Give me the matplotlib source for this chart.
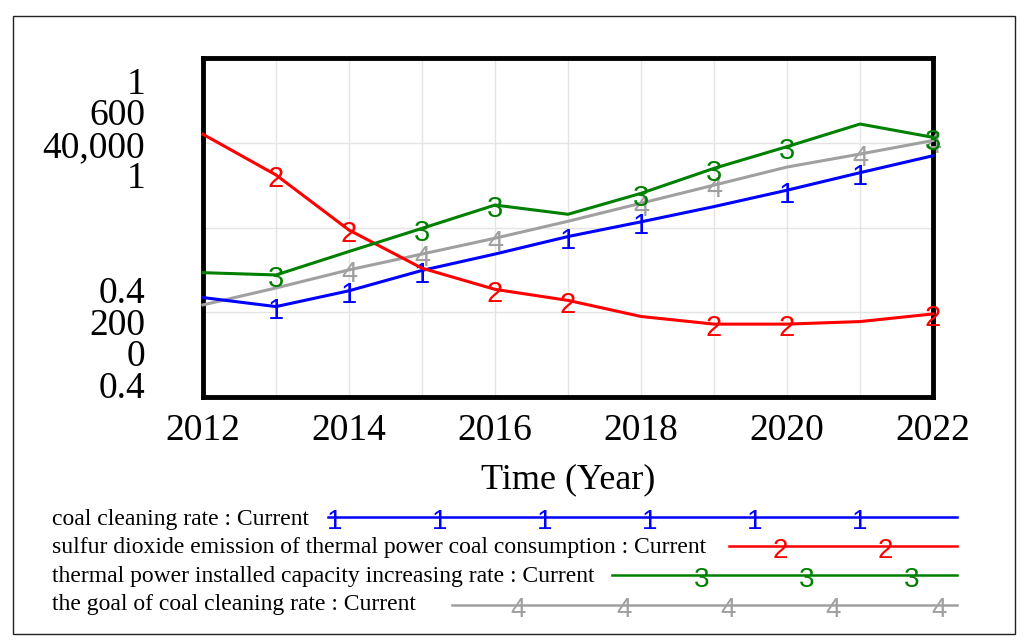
import matplotlib
matplotlib.use('Agg')
import matplotlib.pyplot as plt
import matplotlib.transforms as mtransforms
from matplotlib.lines import Line2D
from matplotlib.patches import Rectangle

# ---------------- data ----------------
years = list(range(2012, 2023))
coal_cleaning_rate = [0.576, 0.560, 0.588, 0.624, 0.653, 0.684, 0.710, 0.737, 0.766, 0.797, 0.827]
so2_emission = [510, 462, 397, 352, 327, 314, 295, 286, 286, 289, 298]
capacity_increasing_rate = [14670, 14400, 17170, 19900, 22650, 21560, 24030, 26980, 29540, 32210, 30640]
goal_cleaning_rate = [0.563, 0.593, 0.625, 0.653, 0.681, 0.711, 0.743, 0.775, 0.807, 0.830, 0.854]

series_names = [
    "coal cleaning rate : Current",
    "sulfur dioxide emission of thermal power coal consumption : Current",
    "thermal power installed capacity increasing rate : Current",
    "the goal of coal cleaning rate : Current",
]
series_values = [coal_cleaning_rate, so2_emission, capacity_increasing_rate, goal_cleaning_rate]
series_ranges = [(0.4, 1.0), (200, 600), (0, 40000), (0.4, 1.0)]
top_labels = ["1", "600", "40,000", "1"]
bottom_labels = ["0.4", "200", "0", "0.4"]
marker_labels = ["1", "2", "3", "4"]
marker_years = [
    [2013, 2014, 2015, 2017, 2018, 2020, 2021],
    [2013, 2014, 2016, 2017, 2019, 2020, 2022],
    [2013, 2015, 2016, 2018, 2019, 2020, 2022],
    [2014, 2015, 2016, 2018, 2019, 2021, 2022],
]
x_ticks = [2012, 2014, 2016, 2018, 2020, 2022]
x_label = "Time (Year)"
colors = ["#0000FF", "#FF0000", "#008000", "#A0A0A0"]

# ---------------- layout ----------------
W, H = 1024, 642
fig = plt.figure(figsize=(W / 100, H / 100), dpi=100)
fx = lambda x: x / W
fy = lambda y: 1 - y / H

SERIF = ["Liberation Serif", "DejaVu Serif"]
SANS = ["Liberation Sans", "DejaVu Sans"]

# outer frame
fig.patches.append(Rectangle((fx(12.5), fy(634)), fx(1015) - fx(12.5), fy(16) - fy(634),
                             transform=fig.transFigure, fill=False, edgecolor="#222222",
                             linewidth=1.0))

ax_left, ax_right, ax_top, ax_bottom = 203, 933, 58, 397
pos = [fx(ax_left), fy(ax_bottom), fx(ax_right) - fx(ax_left), fy(ax_top) - fy(ax_bottom)]

base = fig.add_axes(pos)
base.set_xlim(2012, 2022)
base.set_ylim(0, 4)
base.set_xticks(years)
base.set_yticks([0, 1, 2, 3, 4])
base.grid(True, color="#E4E4E4", linewidth=1.0)
base.tick_params(axis="both", length=0, labelleft=False, labelbottom=False)
for s in base.spines.values():
    s.set_linewidth(3.5)
    s.set_color("black")
base.set_axisbelow(True)

xlab_tr = mtransforms.blended_transform_factory(base.transData, fig.transFigure)
for yr in x_ticks:
    base.text(yr, fy(440), str(yr), transform=xlab_tr,
              ha="center", va="baseline", fontsize=27, family=SERIF)

fig.text(fx(568), fy(488), x_label, ha="center", va="baseline", fontsize=26, family=SERIF)

# y labels (one scale per series)
top_baselines = [93.5, 125, 157, 188.5]
bottom_baselines = [303, 335, 366.5, 397.5]
for lab, yb in zip(top_labels, top_baselines):
    fig.text(fx(145), fy(yb), lab, ha="right", va="baseline", fontsize=27, family=SERIF)
for lab, yb in zip(bottom_labels, bottom_baselines):
    fig.text(fx(145), fy(yb), lab, ha="right", va="baseline", fontsize=27, family=SERIF)

# series axes, drawn in order gray, blue, red, green
draw_order = [3, 0, 1, 2]
for i in draw_order:
    ax = fig.add_axes(pos, sharex=base)
    ax.set_facecolor("none")
    ax.set_ylim(*series_ranges[i])
    ax.axis("off")
    ax.plot(years, series_values[i], color=colors[i], linewidth=2.2, clip_on=False)
    for yr in marker_years[i]:
        v = series_values[i][years.index(yr)]
        ax.annotate(marker_labels[i], (yr, v), xytext=(0, -8.9), textcoords="offset points",
                    ha="center", va="baseline", fontsize=21, color=colors[i], family=SANS,
                    annotation_clip=False)

# ---------------- legend ----------------
leg_line_y = [516.7, 546, 575.3, 605]
leg_text_base = [524.5, 553, 582, 610]
leg_line_start = [328, 729, 612, 452]
leg_line_end = 957
leg_markers = [
    [335, 440, 545, 650, 755, 860],
    [780, 885],
    [702, 807, 912],
    [518, 624, 728, 833, 939],
]
for i in range(4):
    fig.text(fx(52), fy(leg_text_base[i]), series_names[i], ha="left", va="baseline",
             fontsize=17, family=SERIF)
    fig.lines.append(Line2D([fx(leg_line_start[i]), fx(leg_line_end)],
                            [fy(leg_line_y[i]), fy(leg_line_y[i])],
                            transform=fig.transFigure, color=colors[i], linewidth=1.8))
    for mx in leg_markers[i]:
        fig.text(fx(mx), fy(leg_line_y[i] + 12), marker_labels[i], ha="center", va="baseline",
                 fontsize=20, color=colors[i], family=SANS)

fig.savefig("out.png", dpi=100)
